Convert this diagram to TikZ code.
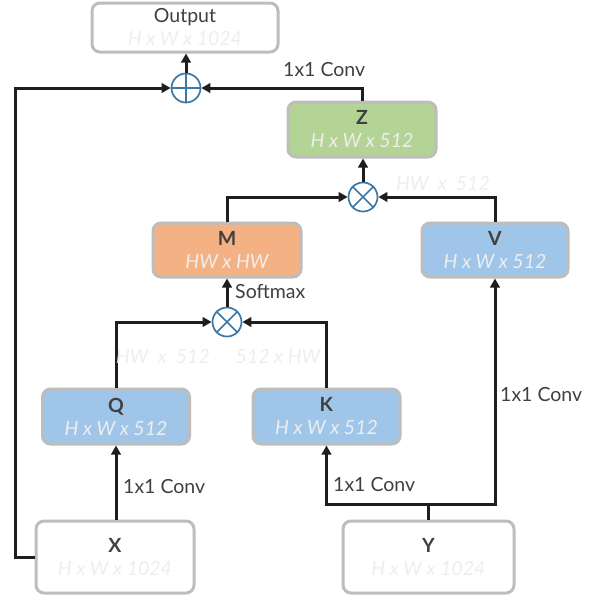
\documentclass[tikz,border=0pt]{standalone}
\usepackage{fontspec}
\setmainfont{Lato}
\usetikzlibrary{arrows.meta}
\definecolor{boxgray}{HTML}{BDBDBD}
\definecolor{fillblue}{HTML}{9FC5E8}
\definecolor{fillgreen}{HTML}{B3D494}
\definecolor{fillorange}{HTML}{F4B183}
\definecolor{txtdark}{HTML}{404040}
\definecolor{txtlight}{HTML}{EEEEEE}
\definecolor{circblue}{HTML}{3A78A8}
\definecolor{linedark}{HTML}{1E1E1E}
\tikzset{
  box/.style={draw=boxgray, line width=3pt, rounded corners=8pt, align=center,
    inner sep=0pt, text=txtdark, font=\fontsize{19.5}{23}\selectfont},
  opcirc/.style={circle, draw=circblue, fill=white, line width=1.7pt, minimum size=29pt, inner sep=0pt},
  opline/.style={draw=circblue, line width=1.7pt},
  arr/.style={draw=linedark, line width=3pt, -{Triangle[length=9pt,width=9.5pt]}},
  plainline/.style={draw=linedark, line width=3pt},
  lbl/.style={text=txtdark, font=\fontsize{19.5}{22}\selectfont, inner sep=0pt},
  dimlbl/.style={text=txtlight, font=\fontsize{19.5}{22}\selectfont\itshape, inner sep=0pt},
}
\newcommand{\dimtxt}[1]{{\color{txtlight}\itshape #1}}
\begin{document}
\begin{tikzpicture}[x=1pt,y=-1pt]
\useasboundingbox[fill=white] (0,0) rectangle (597,598);
% boxes
\node[box, fill=white, minimum width=186pt, minimum height=49pt] (out) at (185,27.5) {Output\\\dimtxt{H x W x 1024}};
\node[box, fill=fillgreen, minimum width=148pt, minimum height=55pt] (Z) at (362,129.5) {\textbf{Z}\\\dimtxt{H x W x 512}};
\node[box, fill=fillorange, minimum width=148pt, minimum height=54pt] (M) at (227,250) {\textbf{M}\\\dimtxt{HW x HW}};
\node[box, fill=fillblue, minimum width=146pt, minimum height=54pt] (V) at (495,250) {\textbf{V}\\\dimtxt{H x W x 512}};
\node[box, fill=fillblue, minimum width=147pt, minimum height=55pt] (Q) at (116,416.5) {\textbf{Q}\\\dimtxt{H x W x 512}};
\node[box, fill=fillblue, minimum width=147pt, minimum height=55pt] (K) at (326.5,416.5) {\textbf{K}\\\dimtxt{H x W x 512}};
\node[box, fill=white, minimum width=158pt, minimum height=72pt] (X) at (115,557) {\textbf{X}\\\dimtxt{H x W x 1024}};
\node[box, fill=white, minimum width=171pt, minimum height=72pt] (Y) at (428.5,557) {\textbf{Y}\\\dimtxt{H x W x 1024}};
% operators
\node[opcirc] (plus) at (186,88) {};
\draw[opline] (plus.north) -- (plus.south) (plus.west) -- (plus.east);
\node[opcirc] (o1) at (363,197) {};
\draw[opline] (o1.45) -- (o1.225) (o1.135) -- (o1.315);
\node[opcirc] (o2) at (227,322) {};
\draw[opline] (o2.45) -- (o2.225) (o2.135) -- (o2.315);
% connectors
\coordinate (lc) at (15,88);
\coordinate (yj) at (428,504);
\draw[arr] (plus.north) -- (plus.north |- out.south);
\draw[arr] (X.west) -- (X.west -| lc) -- (lc) -- (plus.west);
\draw[arr] (Z.north) |- (plus.east);
\draw[arr] (o1.north) -- (o1.north |- Z.south);
\draw[arr] (M.north) |- (o1.west);
\draw[arr] (V.north) |- (o1.east);
\draw[arr] (o2.north) -- (o2.north |- M.south);
\draw[arr] (Q.north) |- (o2.west);
\draw[arr] (K.north) |- (o2.east);
\draw[arr] (Q.south |- X.north) -- (Q.south);
\draw[plainline] (Y.north -| yj) -- (yj);
\draw[arr] (yj) -| (K.south);
\draw[arr] (yj) -| (V.south);
% labels
\node[lbl, anchor=west] (c1) at (283,70) {1x1 Conv};
\node[lbl, anchor=west] (c2) at (123,487) {1x1 Conv};
\node[lbl, anchor=west] (c3) at (333,485) {1x1 Conv};
\node[lbl, anchor=west] (c4) at (500,395) {1x1 Conv};
\node[lbl, anchor=west] (sm) at (235,291) {Softmax};
\node[dimlbl] (d1) at (443,184) {HW\ \ x\ \ 512};
\node[dimlbl] (d2) at (163,357) {HW\ \ x\ \ 512};
\node[dimlbl] (d3) at (278,357) {512 x HW};
\end{tikzpicture}
\end{document}
